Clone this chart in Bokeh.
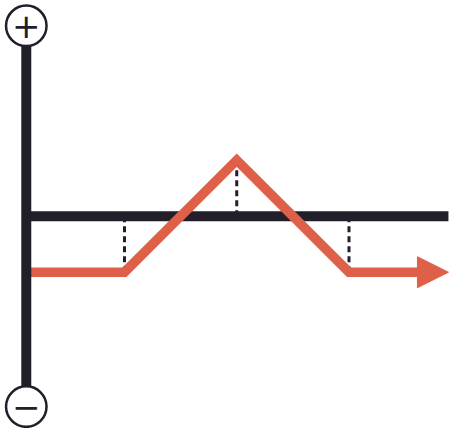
from bokeh.plotting import figure
from bokeh.models import Range1d, Arrow, NormalHead
from bokeh.core.properties import value
from bokeh.embed import file_html
from bokeh.resources import INLINE

# ---- data (in diagram units) ----
axis_x = 0.125            # position of the vertical (P/L) axis
axis_end_x = 3.886        # right end of the horizontal axis
sign_y = [3.4, -3.4]      # centres of the + / - badges
sign_text = ["+", "\u2212"]
payoff_x = [0.125, 1, 2, 3, 3.62]
payoff_y = [-1, -1, 1, -1, -1]
arrow_tip_x = 3.886
strike_x = [1, 2, 3]
strike_y = [-1, 1, -1]

DARK = "#221E2A"
ORANGE = "#DE6049"

p = figure(width=454, height=428, output_backend="svg", toolbar_location=None,
           x_range=Range1d(-0.1047, 3.940), y_range=Range1d(-3.791, 3.852),
           min_border=0, outline_line_color=None)
p.axis.visible = False
p.grid.visible = False
p.background_fill_color = "white"
p.border_fill_color = "white"

# dashed drop lines
p.segment(x0=strike_x, y0=[0] * len(strike_x), x1=strike_x, y1=strike_y,
          line_color=DARK, line_width=3, line_dash="6 4")

# horizontal axis
p.segment(x0=[axis_x], y0=[0], x1=[axis_end_x], y1=[0],
          line_color=DARK, line_width=10, line_cap="butt")

# payoff line
p.line(payoff_x, payoff_y, line_color=ORANGE, line_width=9.5,
       line_join="miter", line_cap="butt")
p.add_layout(Arrow(x_start=payoff_x[-1], y_start=payoff_y[-1],
                   x_end=arrow_tip_x, y_end=payoff_y[-1],
                   line_color=ORANGE, line_width=9.5,
                   end=NormalHead(size=31, fill_color=ORANGE, line_color=ORANGE, line_width=1)))

# vertical axis
p.segment(x0=[axis_x], y0=[sign_y[1]], x1=[axis_x], y1=[sign_y[0]],
          line_color=DARK, line_width=10, line_cap="butt")

# badges
p.scatter(x=[axis_x] * 2, y=sign_y, size=40.5, marker="circle",
          fill_color="white", line_color=DARK, line_width=2.5)
p.text(x=[axis_x] * 2, y=sign_y, text=sign_text, text_align="center",
       text_baseline="middle", text_font=value("DejaVu Sans"),
       text_font_size="34px", text_color=DARK)

open("out.html", "w").write(file_html(p, INLINE))
